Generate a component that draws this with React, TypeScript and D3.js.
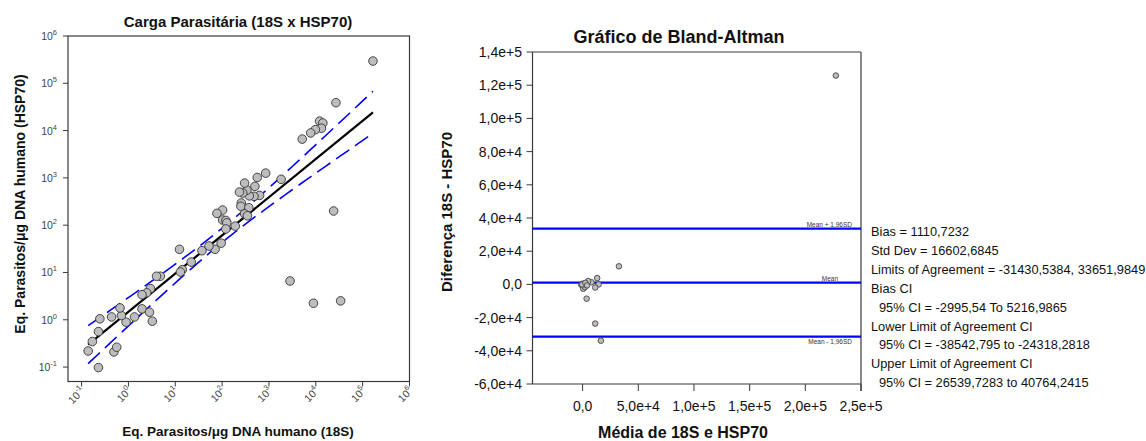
import * as d3 from 'd3';

// log10 of parasite equivalents / ug human DNA
const log18S = [
  5.22, 4.43, 4.08, 4.15, 4.12, 3.99, 3.89, 3.71, 3.26, 2.93, 2.75, 2.8, 2.7,
  2.68, 2.58, 2.53, 2.48, 2.44, 2.37, 2.41, 2.4, 2.57, 2.48, 2.54, 2.01, 1.89,
  2.01, 2.08, 2.1, 2.08, 2.28, 1.98, 1.85, 1.72, 1.57, 1.34, 1.09, 1.15, 1.11,
  0.68, 0.6, 0.47, 0.39, 0.29, 0.29, 0.45, 0.51, 0.13, -0.05, -0.15, -0.18,
  -0.36, -0.61, -0.64, -0.77, -0.86, -0.64, -0.31, -0.25, 3.45, 3.95, 4.53,
  4.38,
];
const logHSP70 = [
  5.47, 4.59, 4.2, 4.16, 4.05, 4.02, 3.95, 3.82, 2.97, 3.1, 3.01, 2.63, 2.82,
  2.61, 2.62, 2.74, 2.89, 2.68, 2.7, 2.47, 2.4, 2.37, 2.24, 2.2, 2.32, 2.25,
  2.11, 2.1, 2.05, 1.92, 1.98, 1.62, 1.49, 1.56, 1.46, 1.22, 1.49, 1.06, 1.01,
  0.92, 0.92, 0.66, 0.57, 0.53, 0.23, 0.16, -0.03, 0.06, -0.05, 0.09, 0.25,
  0.06, 0.02, -0.25, -0.46, -0.66, -1.01, -0.68, -0.58, 0.82, 0.35, 0.4, 2.3,
];

// regression in log-log space and its 95% band
const regSlope = 0.808;
const regIntercept = 0.169;
const bandCenter = 2.0;
const bandMin = 0.15;
const bandGrowth = 0.13;

const logTicks = [-1, 0, 1, 2, 3, 4, 5, 6];

// Bland-Altman: mean of the two methods vs difference
const baMean = [
  227400, 32600, 13100, 14400, 11300, 8000, 5000, 900, 0, -1200, 600, 2000,
  3600, 11300, 16400, 1500, 800, -400, 2500, 4000,
];
const baDiff = [
  125800, 10900, 3800, 0, -1900, 1300, 2000, -500, 400, -200, -2600, -1600,
  -8600, -23600, -33900, 300, 100, 0, 900, -600,
];
const bias = 1110.7232;
const loaLower = -31430.5384;
const loaUpper = 33651.9849;

const baYTicks = [-60000, -40000, -20000, 0, 20000, 40000, 60000, 80000, 100000, 120000, 140000];
const baYLabels = ['-6,0e+4', '-4,0e+4', '-2,0e+4', '0,0', '2,0e+4', '4,0e+4', '6,0e+4', '8,0e+4', '1,0e+5', '1,2e+5', '1,4e+5'];
const baXTicks = [0, 50000, 100000, 150000, 200000, 250000];
const baXLabels = ['0,0', '5,0e+4', '1,0e+5', '1,5e+5', '2,0e+5', '2,5e+5'];

const statsLines = [
  { text: 'Bias = 1110,7232', indent: false },
  { text: 'Std Dev = 16602,6845', indent: false },
  { text: 'Limits of Agreement = -31430,5384, 33651,9849', indent: false },
  { text: 'Bias CI', indent: false },
  { text: '95% CI = -2995,54 To 5216,9865', indent: true },
  { text: 'Lower Limit of Agreement CI', indent: false },
  { text: '95% CI = -38542,795 to -24318,2818', indent: true },
  { text: 'Upper Limit of Agreement CI', indent: false },
  { text: '95% CI = 26539,7283 to 40764,2415', indent: true },
];

const FONT = '"Liberation Sans", Arial, sans-serif';
const AXIS = '#3a3a3a';

function Scatter() {
  const left = 68;
  const right = 409.5;
  const top = 36;
  const bottom = 381.5;

  const x = d3.scaleLog().domain([10 ** -1.29, 1e6]).range([left, right]);
  const y = d3.scaleLog().domain([10 ** -1.305, 1e6]).range([bottom, top]);

  const lxMin = d3.min(log18S) ?? 0;
  const lxMax = d3.max(log18S) ?? 0;
  const samples = d3.range(0, 61).map((i) => lxMin + ((lxMax - lxMin) * i) / 60);
  const fit = (l: number) => regIntercept + regSlope * l;
  const hw = (l: number) =>
    Math.sqrt(bandMin * bandMin + bandGrowth * bandGrowth * (l - bandCenter) ** 2);

  const line = d3
    .line<number[]>()
    .x((d) => x(10 ** d[0]))
    .y((d) => y(10 ** d[1]));

  const upper = samples.map((l) => [l, fit(l) + hw(l)]);
  const lower = samples.map((l) => [l, fit(l) - hw(l)]);
  const mid = [
    [lxMin, fit(lxMin)],
    [lxMax, fit(lxMax)],
  ];

  return (
    <g fontFamily={FONT}>
      <text x={238} y={27} textAnchor='middle' fontSize={15} fontWeight='bold' fill='#111'>
        Carga Parasitária (18S x HSP70)
      </text>
      <rect x={left} y={top} width={right - left} height={bottom - top} fill='none' stroke={AXIS} strokeWidth={1.2} />

      {logTicks.map((t) => (
        <g key={`y${t}`}>
          <line x1={left - 5} x2={left} y1={y(10 ** t)} y2={y(10 ** t)} stroke={AXIS} />
          <text x={57} y={y(10 ** t) + 4} textAnchor='end' fontSize={10.5} fill='#444'>
            10
            <tspan dy={-5} fontSize={7.5}>
              {t}
            </tspan>
          </text>
        </g>
      ))}
      {logTicks.map((t) => (
        <g key={`x${t}`}>
          <line x1={x(10 ** t)} x2={x(10 ** t)} y1={bottom} y2={bottom + 5} stroke={AXIS} />
          <text
            transform={`translate(${x(10 ** t) + 4},${bottom + 10}) rotate(-45)`}
            textAnchor='end'
            fontSize={10.5}
            fill='#444'
          >
            10
            <tspan dy={-5} fontSize={7.5}>
              {t}
            </tspan>
          </text>
        </g>
      ))}

      <path d={line(upper) ?? ''} fill='none' stroke='#0000ff' strokeWidth={1.6} strokeDasharray='16,7' />
      <path d={line(lower) ?? ''} fill='none' stroke='#0000ff' strokeWidth={1.6} strokeDasharray='16,7' />
      <path d={line(mid) ?? ''} fill='none' stroke='#000' strokeWidth={2.2} />

      {log18S.map((lx, i) => (
        <circle
          key={i}
          cx={x(10 ** lx)}
          cy={y(10 ** logHSP70[i])}
          r={4.3}
          fill='#bdbdbd'
          stroke='#333'
          strokeWidth={0.9}
        />
      ))}

      <text
        transform={`translate(25,204) rotate(-90)`}
        textAnchor='middle'
        fontSize={14}
        fontWeight='bold'
        fill='#111'
      >
        Eq. Parasitos/μg DNA humano (HSP70)
      </text>
      <text x={238} y={436} textAnchor='middle' fontSize={13.5} fontWeight='bold' fill='#111'>
        Eq. Parasitos/μg DNA humano (18S)
      </text>
    </g>
  );
}

function BlandAltman() {
  const left = 532.5;
  const right = 861;
  const top = 52;
  const bottom = 384;

  const x = d3.scaleLinear().domain([-45000, 250000]).range([left, right]);
  const y = d3.scaleLinear().domain([-60000, 140000]).range([bottom, top]);

  const refLines = [
    { v: loaUpper, label: 'Mean + 1,96SD', lx: 852, dy: -2 },
    { v: bias, label: 'Mean', lx: 838, dy: -2 },
    { v: loaLower, label: 'Mean - 1,96SD', lx: 852, dy: 7 },
  ];

  return (
    <g fontFamily={FONT}>
      <text x={679} y={43} textAnchor='middle' fontSize={18} fontWeight='bold' fill='#111'>
        Gráfico de Bland-Altman
      </text>
      <line x1={left} x2={right} y1={top} y2={top} stroke={AXIS} strokeWidth={1.2} />
      <line x1={left} x2={left} y1={top} y2={bottom} stroke={AXIS} strokeWidth={1.2} />
      <line x1={left} x2={right} y1={bottom} y2={bottom} stroke={AXIS} strokeWidth={1.2} />
      <line x1={right} x2={right} y1={top} y2={bottom + 7} stroke={AXIS} strokeWidth={1.2} />

      {baYTicks.map((t, i) => (
        <g key={`y${t}`}>
          <line x1={left - 6} x2={left} y1={y(t)} y2={y(t)} stroke={AXIS} />
          <text x={522} y={y(t) + 5} textAnchor='end' fontSize={14} fill='#111'>
            {baYLabels[i]}
          </text>
        </g>
      ))}
      {baXTicks.map((t, i) => (
        <g key={`x${t}`}>
          <line x1={x(t)} x2={x(t)} y1={bottom} y2={bottom + 7} stroke={AXIS} />
          <text x={x(t)} y={411} textAnchor='middle' fontSize={14} fill='#111'>
            {baXLabels[i]}
          </text>
        </g>
      ))}

      {refLines.map((r) => (
        <g key={r.label}>
          <line x1={left} x2={right} y1={y(r.v)} y2={y(r.v)} stroke='#0000ff' strokeWidth={2.2} />
          <text x={r.lx} y={y(r.v) + r.dy} textAnchor='end' fontSize={6.5} fill='#333'>
            {r.label}
          </text>
        </g>
      ))}

      {baMean.map((m, i) => (
        <circle key={i} cx={x(m)} cy={y(baDiff[i])} r={2.8} fill='#bdbdbd' stroke='#333' strokeWidth={0.8} />
      ))}

      <text
        transform={`translate(452,212) rotate(-90)`}
        textAnchor='middle'
        fontSize={15}
        fontWeight='bold'
        fill='#111'
      >
        Diferença 18S - HSP70
      </text>
      <text x={683} y={438} textAnchor='middle' fontSize={16} fontWeight='bold' fill='#111'>
        Média de 18S e HSP70
      </text>

      {statsLines.map((s, i) => (
        <text key={i} x={s.indent ? 879 : 871} y={236 + i * 18.9} fontSize={12.8} fill='#111'>
          {s.text}
        </text>
      ))}
    </g>
  );
}

export default function App() {
  return (
    <svg
      width={1146}
      height={441}
      viewBox='0 0 1146 441'
      style={{ position: 'absolute', left: 0, top: 0, background: '#fff' }}
    >
      <rect width={1146} height={441} fill='#fff' />
      <Scatter />
      <BlandAltman />
    </svg>
  );
}
